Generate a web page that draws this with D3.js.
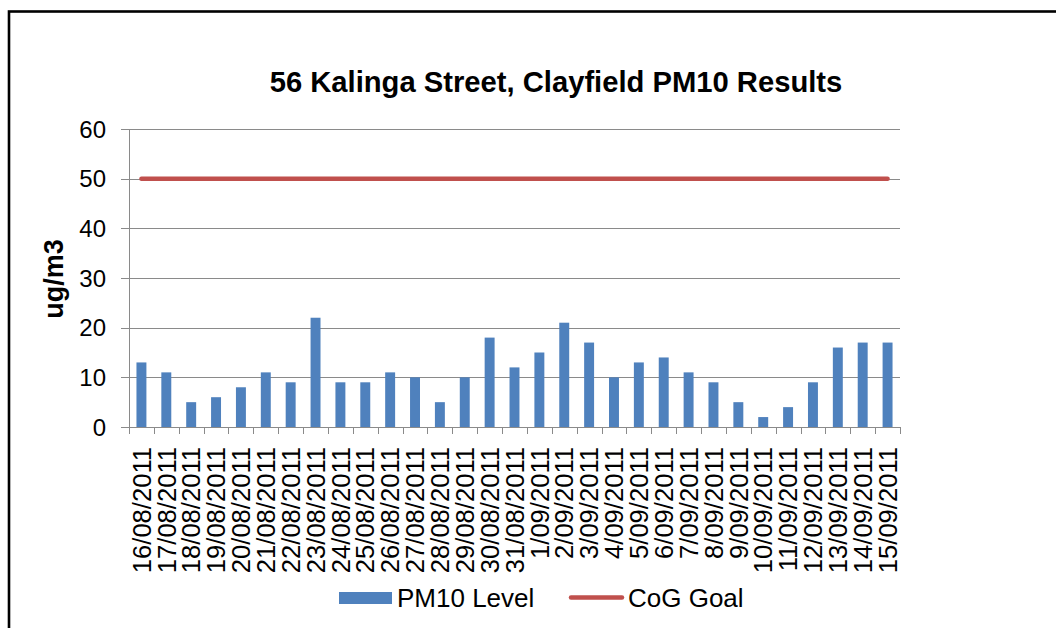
<!DOCTYPE html>
<html>
<head>
<meta charset="utf-8">
<script src="https://cdn.jsdelivr.net/npm/d3@7"></script>
<style>
  html, body { margin: 0; padding: 0; background: #fff; }
  svg { display: block; font-family: "Liberation Sans", Arial, sans-serif; }
</style>
</head>
<body>
<svg id="chart" width="1056" height="628"></svg>
<script>
const dates = ["16/08/2011","17/08/2011","18/08/2011","19/08/2011","20/08/2011","21/08/2011","22/08/2011","23/08/2011","24/08/2011","25/08/2011","26/08/2011","27/08/2011","28/08/2011","29/08/2011","30/08/2011","31/08/2011","1/09/2011","2/09/2011","3/09/2011","4/09/2011","5/09/2011","6/09/2011","7/09/2011","8/09/2011","9/09/2011","10/09/2011","11/09/2011","12/09/2011","13/09/2011","14/09/2011","15/09/2011"];
const pm10 = [13,11,5,6,8,11,9,22,9,9,11,10,5,10,18,12,15,21,17,10,13,14,11,9,5,2,4,9,16,17,17];
const goal = [50,50,50,50,50,50,50,50,50,50,50,50,50,50,50,50,50,50,50,50,50,50,50,50,50,50,50,50,50,50,50];
const yTicks = [0,10,20,30,40,50,60];
const title = "56 Kalinga Street, Clayfield PM10 Results";
const yTitle = "ug/m3";
const seriesNames = ["PM10 Level", "CoG Goal"];

const svg = d3.select("#chart");
const L = 129, R = 900, T = 129, B = 427;

// frame
svg.append("rect").attr("x", 9).attr("y", 11.5).attr("width", 1100).attr("height", 700)
  .attr("fill", "none").attr("stroke", "#000").attr("stroke-width", 2.6);

const x = d3.scaleBand().domain(dates).range([L, R]).paddingInner(0.6).paddingOuter(0.3);
const y = d3.scaleLinear().domain([0, 60]).range([B, T]);
const step = x.step();

// gridlines + y ticks
svg.append("g").selectAll("line").data(yTicks).join("line")
  .attr("x1", L - 8).attr("x2", R)
  .attr("y1", d => Math.round(y(d)) + 0.5).attr("y2", d => Math.round(y(d)) + 0.5)
  .attr("stroke", "#8a8a8a").attr("stroke-width", 1);

// y axis line
svg.append("line").attr("x1", L + 0.5).attr("x2", L + 0.5).attr("y1", y(60)).attr("y2", B + 7)
  .attr("stroke", "#8a8a8a").attr("stroke-width", 1);

// x ticks at band boundaries
const bounds = dates.map(d => x(d) - x.paddingOuter() * step).concat([R]);
svg.append("g").selectAll("line").data(bounds).join("line")
  .attr("x1", d => Math.round(d) + 0.5).attr("x2", d => Math.round(d) + 0.5)
  .attr("y1", B).attr("y2", B + 7)
  .attr("stroke", "#8a8a8a").attr("stroke-width", 1);

// y tick labels
svg.append("g").selectAll("text").data(yTicks).join("text")
  .attr("x", 106).attr("y", d => y(d)).attr("dy", "0.36em")
  .attr("text-anchor", "end").attr("font-size", 24).attr("fill", "#000")
  .text(d => d);

// bars
svg.append("g").selectAll("rect").data(pm10).join("rect")
  .attr("x", (d, i) => x(dates[i])).attr("width", x.bandwidth())
  .attr("y", d => y(d)).attr("height", d => B - y(d))
  .attr("fill", "#4F81BD");

// goal line
const line = d3.line().x((d, i) => x(dates[i]) + x.bandwidth() / 2).y(d => y(d));
svg.append("path").datum(goal).attr("d", line)
  .attr("fill", "none").attr("stroke", "#C0504D").attr("stroke-width", 4.5).attr("stroke-linecap", "round");

// x labels
svg.append("g").selectAll("text").data(dates).join("text")
  .attr("transform", d => `translate(${x(d) + x.bandwidth() / 2},447) rotate(-90)`)
  .attr("dy", "0.36em").attr("text-anchor", "end").attr("font-size", 25.6).attr("fill", "#000")
  .text(d => d);

// title
svg.append("text").attr("x", 556).attr("y", 92).attr("text-anchor", "middle")
  .attr("font-size", 29.2).attr("font-weight", "bold").attr("fill", "#000").text(title);

// y title
svg.append("text").attr("transform", "translate(63,279) rotate(-90)")
  .attr("text-anchor", "middle").attr("font-size", 27).attr("font-weight", "bold").attr("fill", "#000")
  .text(yTitle);

// legend
const lg = svg.append("g");
lg.append("rect").attr("x", 339).attr("y", 592).attr("width", 53).attr("height", 12).attr("fill", "#4F81BD");
lg.append("text").attr("x", 397).attr("y", 598).attr("dy", "0.36em").attr("font-size", 26).attr("fill", "#000").text(seriesNames[0]);
lg.append("line").attr("x1", 571).attr("x2", 622).attr("y1", 597.5).attr("y2", 597.5)
  .attr("stroke", "#C0504D").attr("stroke-width", 4.5).attr("stroke-linecap", "round");
lg.append("text").attr("x", 628).attr("y", 598).attr("dy", "0.36em").attr("font-size", 26).attr("fill", "#000").text(seriesNames[1]);
</script>
</body>
</html>
